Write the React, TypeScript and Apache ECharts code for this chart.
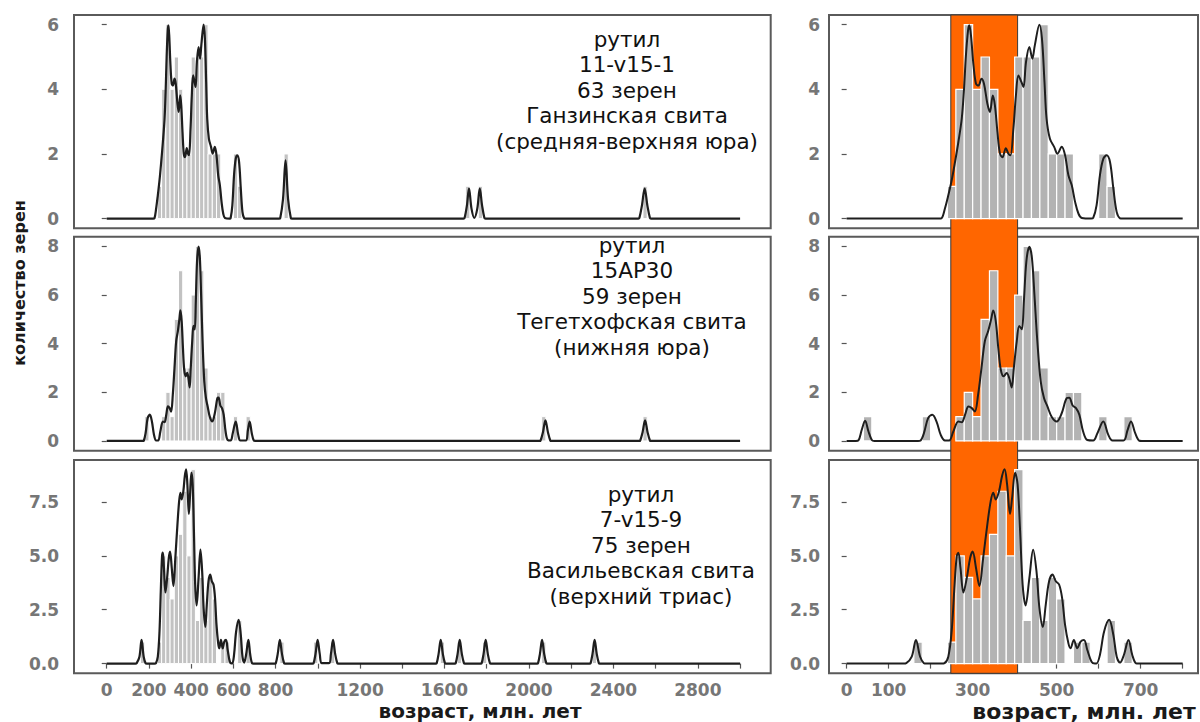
import React, { useEffect, useRef } from 'react';
import * as echarts from 'echarts';

// ---------- data ----------
const BIN_WIDTH = 20;

// histogram bins: [bin start (Ma), grain count]
const TOP_BINS = [
  [240, 1], [260, 4], [280, 6], [300, 4], [320, 5], [340, 4], [360, 2], [380, 2], [400, 5], [420, 5],
  [440, 5], [460, 6], [480, 2], [500, 2], [520, 2], [600, 2], [620, 1], [840, 2], [1700, 1], [1760, 1], [2540, 1],
];
const MID_BINS_LOW = [[40, 1]]; // only drawn in the zoomed panel
const MID_BINS = [
  [180, 1], [260, 1], [280, 2], [300, 1], [320, 5], [340, 7], [360, 3], [380, 3], [400, 6], [420, 8],
  [440, 7], [460, 3], [480, 1], [500, 1], [520, 2], [540, 2], [600, 1], [660, 1], [2060, 1], [2540, 1],
];
const BOT_BINS = [
  [160, 1], [240, 1], [260, 5], [280, 4], [300, 3], [320, 5], [340, 6], [360, 8], [380, 5], [400, 9],
  [420, 2], [440, 4], [460, 2], [480, 4], [500, 3], [540, 1], [560, 1], [620, 2], [660, 1], [820, 1],
  [980, 1], [1060, 1], [1580, 1], [1660, 1], [1780, 1], [2060, 1], [2300, 1],
];

// density curves: [age, value]
const TOP_CURVE = [
  [0, 0], [220, 0], [226, 0.01], [234, 0.31], [242, 0.72], [250, 1.18], [258, 1.75], [266, 2.37], [274, 3.09],
  [279, 3.92], [284, 5.05], [289, 5.82], [292, 5.98], [296, 5.67], [302, 4.74], [308, 4.17], [314, 4.12],
  [321, 4.33], [327, 4.17], [335, 3.56], [341, 3.3], [348, 3.81], [353, 3.5], [359, 2.68], [365, 2.01],
  [371, 1.9], [379, 2.18], [385, 2.01], [390, 1.96], [397, 2.78], [403, 3.81], [409, 4.43], [416, 4.23],
  [421, 4.07], [427, 4.84], [435, 5.31], [442, 4.95], [448, 5.36], [459, 6.0], [465, 5.57], [471, 4.23],
  [476, 3.09], [484, 2.47], [494, 2.22], [502, 2.01], [512, 2.22], [520, 1.96], [528, 1.34], [536, 1.03],
  [544, 0.51], [552, 0.15], [560, 0.02], [582, 0], [587, 0.02], [595, 0.41], [603, 1.34], [611, 1.85],
  [619, 1.96], [627, 1.75], [635, 0.93], [643, 0.2], [651, 0.01], [657, 0],
];
const TOP_FAR = [
  [816, 0], [822, 0.02], [835, 0.6], [847, 1.8], [859, 0.6], [872, 0.02], [878, 0],
  [1690, 0], [1695, 0.02], [1706, 0.4], [1716, 0.93], [1728, 0.3], [1741, 0.02], [1755, 0.3], [1767, 0.93],
  [1778, 0.4], [1789, 0.02], [1794, 0],
  [2518, 0], [2523, 0.02], [2535, 0.4], [2548, 0.93], [2561, 0.4], [2573, 0.02], [2578, 0],
];
const MID_LOW = [
  [0, 0], [22, 0], [28, 0.02], [36, 0.46], [44, 0.83], [52, 0.39], [60, 0.04], [66, 0],
];
const MID_CURVE = [
  [170, 0], [176, 0.02], [184, 0.32], [194, 0.94], [204, 1.08], [214, 0.8], [224, 0.25], [234, 0.02],
  [244, 0.02], [254, 0.39], [266, 0.8], [274, 0.77], [282, 1.08], [290, 1.42], [298, 1.35], [305, 1.21],
  [313, 1.9], [321, 3.0], [329, 4.1], [337, 4.52], [344, 5.0], [349, 5.37], [355, 4.93], [361, 3.83],
  [367, 2.93], [374, 2.66], [381, 2.8], [387, 2.59], [393, 2.2], [398, 3.0], [405, 4.1], [411, 4.73],
  [417, 4.59], [422, 5.76], [428, 7.41], [435, 7.99], [441, 7.55], [447, 6.03], [454, 4.1], [462, 2.45],
  [470, 1.76], [478, 1.42], [488, 1.0], [500, 0.8], [512, 1.14], [524, 1.76], [530, 1.78], [538, 1.46],
  [546, 1.35], [554, 1.08], [563, 0.39], [573, 0.04], [587, 0.02], [597, 0.32], [611, 0.8], [623, 0.25],
  [633, 0.02], [659, 0.02], [669, 0.46], [677, 0.8], [687, 0.32], [697, 0.01], [703, 0],
];
const MID_FAR = [
  [2050, 0], [2055, 0.02], [2066, 0.35], [2078, 0.85], [2090, 0.35], [2101, 0.02], [2106, 0],
  [2522, 0], [2527, 0.02], [2538, 0.35], [2550, 0.85], [2562, 0.35], [2573, 0.02], [2578, 0],
];
const BOT_CURVE = [
  [0, 0], [136, 0], [142, 0.02], [155, 0.32], [165, 1.1], [175, 0.32], [184, 0.02], [190, 0],
  [226, 0], [233, 0.02], [242, 0.32], [250, 1.49], [256, 3.35], [262, 4.98], [266, 5.15], [271, 4.44],
  [278, 3.3], [286, 3.97], [294, 4.9], [300, 5.2], [308, 4.44], [316, 3.6], [325, 4.9], [335, 6.46],
  [343, 7.54], [349, 7.93], [355, 7.62], [363, 8.01], [370, 8.71], [376, 9.02], [382, 8.32], [389, 6.95],
  [394, 7.7], [401, 8.86], [407, 8.32], [413, 6.15], [419, 3.66], [426, 2.7], [435, 3.97], [444, 5.29],
  [452, 4.28], [459, 2.57], [467, 1.7], [474, 2.73], [482, 3.82], [490, 4.13], [498, 3.82], [506, 3.66],
  [513, 3.04], [520, 1.8], [528, 0.94], [533, 0.71], [541, 1.1], [549, 0.71], [557, 1.02], [565, 1.1],
  [573, 0.63], [583, 0.09], [591, 0.01], [595, 0.01], [603, 0.4], [613, 1.49], [625, 2.03], [635, 1.33],
  [643, 0.32], [651, 0.05], [660, 0.4], [671, 1.1], [680, 0.4], [689, 0.01], [695, 0],
];
const BOT_FAR = [
  [796, 0], [801, 0.02], [810, 0.45], [820, 1.1], [830, 0.45], [840, 0.02], [845, 0],
  [975, 0], [980, 0.02], [989, 0.45], [999, 1.1], [1009, 0.45], [1019, 0.02],
  [1053, 0.02], [1062, 0.45], [1072, 1.1], [1082, 0.45], [1092, 0.02], [1097, 0],
  [1558, 0], [1563, 0.02], [1572, 0.45], [1582, 1.1], [1592, 0.45], [1602, 0.02], [1607, 0],
  [1648, 0], [1653, 0.02], [1662, 0.45], [1672, 1.1], [1682, 0.45], [1692, 0.02], [1697, 0],
  [1771, 0], [1776, 0.02], [1785, 0.45], [1795, 1.1], [1805, 0.45], [1815, 0.02], [1820, 0],
  [2038, 0], [2043, 0.02], [2052, 0.45], [2062, 1.1], [2072, 0.45], [2082, 0.02], [2087, 0],
  [2287, 0], [2292, 0.02], [2301, 0.45], [2311, 1.1], [2321, 0.45], [2331, 0.02], [2336, 0],
];

const LEFT_X_TICKS = [0, 200, 400, 600, 800, 1000, 1200, 1400, 1600, 1800, 2000, 2200, 2400, 2600, 2800, 3000];
const LEFT_X_LABELS = [0, 200, 400, 600, 800, 1200, 1600, 2000, 2400, 2800];
const RIGHT_X_TICKS = [0, 100, 200, 300, 400, 500, 600, 700, 800];
const RIGHT_X_LABELS = [0, 100, 300, 500, 700];
const Y_TICKS = [[0, 2, 4, 6], [0, 2, 4, 6, 8], [0, 2.5, 5, 7.5]];
const Y_LIMITS = [[-0.3, 6.3], [-0.4, 8.4], [-0.45, 9.45]];
const CURVE_END_LEFT = 3000;
const CURVE_END_RIGHT = 800;
const HIGHLIGHT_FROM = 248;
const HIGHLIGHT_TO = 407;

const SAMPLE_LABELS = [
  ['рутил', '11-v15-1', '63 зерен', 'Ганзинская свита', '(средняя-верхняя юра)'],
  ['рутил', '15AP30', '59 зерен', 'Тегетхофская свита', '(нижняя юра)'],
  ['рутил', '7-v15-9', '75 зерен', 'Васильевская свита', '(верхний триас)'],
];
const X_TITLE = 'возраст, млн. лет';
const Y_TITLE = 'количество зерен';

// ---------- layout ----------
const ROW_TOP = [15, 236.7, 460];
const ROW_H = [213.3, 214, 213.3];
const LEFT_X = 74, LEFT_W = 696.7;
const RIGHT_X = 829, RIGHT_W = 369;
const LEFT_RANGE = [-155, 3145];
const RIGHT_RANGE = [-42, 836.5];
const TEXT_CX = [627, 632, 641];
const TEXT_Y0 = [39, 245, 494];
const TEXT_STEP = 25.5;

const TICK_FONT = 'DejaVu Sans';
const TICK_COLOR = '#767676';
const BORDER = '#5a5a5a';

export default function App() {
  const ref = useRef<HTMLDivElement>(null);

  useEffect(() => {
    if (!ref.current) return;
    const chart = echarts.init(ref.current, undefined, { renderer: 'svg' });

    const rowsLeft = [
      { bins: TOP_BINS, curve: [...TOP_CURVE, ...TOP_FAR, [CURVE_END_LEFT, 0]] },
      { bins: MID_BINS, curve: [[0, 0], ...MID_CURVE, ...MID_FAR, [CURVE_END_LEFT, 0]] },
      { bins: BOT_BINS, curve: [...BOT_CURVE, ...BOT_FAR, [CURVE_END_LEFT, 0]] },
    ];
    const rowsRight = [
      { bins: TOP_BINS, curve: [...TOP_CURVE, [CURVE_END_RIGHT, 0]] },
      { bins: [...MID_BINS_LOW, ...MID_BINS], curve: [...MID_LOW, ...MID_CURVE, [CURVE_END_RIGHT, 0]] },
      { bins: BOT_BINS, curve: [...BOT_CURVE, [CURVE_END_RIGHT, 0]] },
    ];

    const grids: any[] = [];
    const xAxes: any[] = [];
    const yAxes: any[] = [];
    const series: any[] = [];

    const makeRenderBar = (fill: string, strokeW: number) => (params: any, api: any) => {
      const p0 = api.coord([api.value(0), api.value(2)]);
      const p1 = api.coord([api.value(1), 0]);
      return {
        type: 'rect',
        shape: { x: p0[0], y: p0[1], width: p1[0] - p0[0], height: p1[1] - p0[1] },
        style: { fill, stroke: '#ffffff', lineWidth: strokeW },
      };
    };

    for (let r = 0; r < 3; r++) {
      for (let c = 0; c < 2; c++) {
        const idx = r * 2 + c;
        const isLeft = c === 0;
        const isBottom = r === 2;
        grids.push({
          left: isLeft ? LEFT_X : RIGHT_X,
          top: ROW_TOP[r],
          width: isLeft ? LEFT_W : RIGHT_W,
          height: ROW_H[r],
          show: true,
          borderColor: BORDER,
          borderWidth: 2,
          backgroundColor: 'transparent',
        });
        const range = isLeft ? LEFT_RANGE : RIGHT_RANGE;
        xAxes.push({
          gridIndex: idx,
          type: 'value',
          min: range[0],
          max: range[1],
          axisLine: { show: false },
          splitLine: { show: false },
          axisTick: {
            show: isBottom,
            length: 5,
            lineStyle: { color: '#555', width: 1.2 },
            customValues: isLeft ? LEFT_X_TICKS : RIGHT_X_TICKS,
          },
          axisLabel: {
            show: isBottom,
            customValues: isLeft ? LEFT_X_LABELS : RIGHT_X_LABELS,
            fontFamily: TICK_FONT,
            fontWeight: 'bold',
            fontSize: 17,
            color: TICK_COLOR,
            margin: 8,
            formatter: (v: number) => String(v),
          },
        });
        yAxes.push({
          gridIndex: idx,
          type: 'value',
          min: Y_LIMITS[r][0],
          max: Y_LIMITS[r][1],
          axisLine: { show: false },
          splitLine: { show: false },
          axisTick: {
            show: true,
            length: 5,
            lineStyle: { color: '#555', width: 1.2 },
            customValues: Y_TICKS[r],
          },
          axisLabel: {
            customValues: Y_TICKS[r],
            fontFamily: TICK_FONT,
            fontWeight: 'bold',
            fontSize: 17,
            color: TICK_COLOR,
            margin: isLeft ? 15 : 9,
            formatter: (v: number) => (r === 2 ? v.toFixed(1) : String(v)),
          },
        });
        const rowData = isLeft ? rowsLeft[r] : rowsRight[r];
        const limit = isLeft ? CURVE_END_LEFT : CURVE_END_RIGHT;
        series.push({
          type: 'custom',
          xAxisIndex: idx,
          yAxisIndex: idx,
          renderItem: isLeft ? makeRenderBar('#c2c2c2', 1) : makeRenderBar('#b3b3b3', 1.2),
          encode: { x: [0, 1], y: 2 },
          data: rowData.bins
            .filter((b) => b[0] < limit)
            .map((b) => [b[0], b[0] + BIN_WIDTH, b[1]]),
          z: 2,
          silent: true,
        });
        series.push({
          type: 'line',
          xAxisIndex: idx,
          yAxisIndex: idx,
          data: rowData.curve,
          showSymbol: false,
          smooth: 0.35,
          lineStyle: { color: '#1e1e1e', width: isLeft ? 2.2 : 2 },
          z: 3,
          silent: true,
        });
      }
    }

    chart.setOption({
      animation: false,
      backgroundColor: '#ffffff',
      grid: grids,
      xAxis: xAxes,
      yAxis: yAxes,
      series,
    });

    const hx0 = chart.convertToPixel({ xAxisIndex: 1 }, HIGHLIGHT_FROM) as number;
    const hx1 = chart.convertToPixel({ xAxisIndex: 1 }, HIGHLIGHT_TO) as number;
    const hTop = ROW_TOP[0];
    const hBottom = ROW_TOP[2] + ROW_H[2];

    const graphics: any[] = [
      {
        type: 'rect',
        z: 1,
        silent: true,
        shape: { x: hx0, y: hTop, width: hx1 - hx0, height: hBottom - hTop },
        style: { fill: '#ff6600', stroke: '#3a3a3a', lineWidth: 1 },
      },
    ];
    SAMPLE_LABELS.forEach((lines, r) => {
      lines.forEach((t, i) => {
        graphics.push({
          type: 'text',
          z: 5,
          x: TEXT_CX[r],
          y: TEXT_Y0[r] + i * TEXT_STEP,
          style: {
            text: t,
            fontFamily: 'DejaVu Sans',
            fontSize: 21.5,
            fill: '#111',
            textAlign: 'center',
            textVerticalAlign: 'middle',
          },
        });
      });
    });
    graphics.push({
      type: 'text',
      x: 480,
      y: 711,
      style: {
        text: X_TITLE,
        fontFamily: 'DejaVu Sans',
        fontWeight: 'bold',
        fontSize: 20,
        fill: '#1a1a1a',
        textAlign: 'center',
        textVerticalAlign: 'middle',
      },
    });
    graphics.push({
      type: 'text',
      x: 1084,
      y: 711,
      style: {
        text: X_TITLE,
        fontFamily: 'DejaVu Sans',
        fontWeight: 'bold',
        fontSize: 22,
        fill: '#1a1a1a',
        textAlign: 'center',
        textVerticalAlign: 'middle',
      },
    });
    graphics.push({
      type: 'text',
      x: 19,
      y: 283,
      rotation: Math.PI / 2,
      style: {
        text: Y_TITLE,
        fontFamily: 'DejaVu Sans',
        fontWeight: 'bold',
        fontSize: 16,
        fill: '#1a1a1a',
        textAlign: 'center',
        textVerticalAlign: 'middle',
      },
    });

    chart.setOption({ graphic: { elements: graphics } });

    return () => chart.dispose();
  }, []);

  return (
    <div
      ref={ref}
      style={{ position: 'fixed', left: 0, top: 0, width: 1200, height: 722, background: '#fff' }}
    />
  );
}
